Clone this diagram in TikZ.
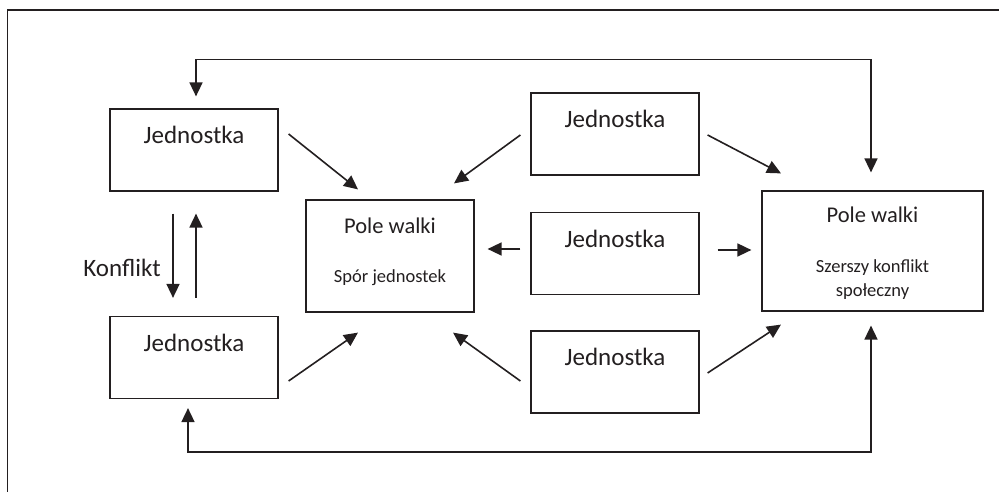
\documentclass[tikz,border=0pt]{standalone}
\usepackage{fontspec}
\setmainfont{Carlito}
\usetikzlibrary{arrows.meta}
\definecolor{ink}{HTML}{231F20}

\begin{document}
\begin{tikzpicture}[x=1pt,y=1pt,
  box/.style={draw=ink,line width=1.2pt,inner sep=0pt,minimum width=168pt,
    text height=35pt,text depth=47pt,text=ink,font=\fontsize{25}{29}\selectfont},
  small/.style={inner sep=0pt,anchor=base,text=ink,font=\fontsize{18.5}{22}\selectfont},
  arr/.style={draw=ink,line width=1.6pt,-{Triangle[width=13pt,length=14pt]}},
  both/.style={arr,{Triangle[width=13pt,length=14pt]}-{Triangle[width=13pt,length=14pt]}}]
\useasboundingbox (0,0) rectangle (999,492);
\draw[ink,line width=1.2pt] (7.5,0) -- (7.5,482) -- (999,482);
% boxes
\node[box] (l1) at (194,342) {Jednostka};
\node[box] (l2) at (194,134.5) {Jednostka};
\node[box,text height=34pt,text depth=78pt,font=\fontsize{22.5}{26}\selectfont] (c) at (390,236) {Pole walki};
\node[small] (cs) at (390,209) {Spór jednostek};
\node[box] (m1) at (615,358) {Jednostka};
\node[box] (m2) at (615,238.5) {Jednostka};
\node[box] (m3) at (615,120) {Jednostka};
\node[box,minimum width=221pt,text height=32pt,text depth=88pt,font=\fontsize{22.5}{26}\selectfont] (r) at (872.5,241) {Pole walki};
\node[small] (rs1) at (872.5,219) {Szerszy konflikt};
\node[small] (rs2) at (872.5,195) {społeczny};
\node[small,font=\fontsize{25}{29}\selectfont] (k) at (122,215) {Konflikt};
% konflikt
\draw[arr] ([xshift=-21pt,yshift=-22pt]l1.south) -- ([xshift=-21pt,yshift=18pt]l2.north);
\draw[arr] ([xshift=2pt,yshift=18pt]l2.north) -- ([xshift=2pt,yshift=-22pt]l1.south);
% feedback
\draw[both] ([xshift=2pt,yshift=12pt]l1.north) -- ++(0,37) -| ([xshift=-1.5pt,yshift=18pt]r.north);
\draw[both] ([xshift=-6pt,yshift=-9pt]l2.south) -- ++(0,-44) -| ([xshift=-1.5pt,yshift=-14pt]r.south);
% into pole walki
\draw[arr] ([xshift=10pt,yshift=16pt]l1.east) -- ([xshift=-32pt,yshift=10pt]c.north);
\draw[arr] ([xshift=10pt,yshift=-23.5pt]l2.east) -- ([xshift=-32pt,yshift=-20pt]c.south);
\draw[arr] ([xshift=-10pt,yshift=-1pt]m1.west) -- ([xshift=64pt,yshift=16pt]c.north);
\draw[arr] ([xshift=-10pt,yshift=4.5pt]m2.west) -- ([xshift=13pt,yshift=7pt]c.east);
\draw[arr] ([xshift=-10pt,yshift=-9pt]m3.west) -- ([xshift=63pt,yshift=-20pt]c.south);
\draw[arr] ([xshift=8pt,yshift=-1pt]m1.east) -- ([xshift=-91.5pt,yshift=17pt]r.north);
\draw[arr] ([xshift=18pt,yshift=3.5pt]m2.east) -- ([xshift=-10pt,yshift=1pt]r.west);
\draw[arr] ([xshift=8pt,yshift=-1pt]m3.east) -- ([xshift=-91.5pt,yshift=-13pt]r.south);
\end{tikzpicture}
\end{document}
